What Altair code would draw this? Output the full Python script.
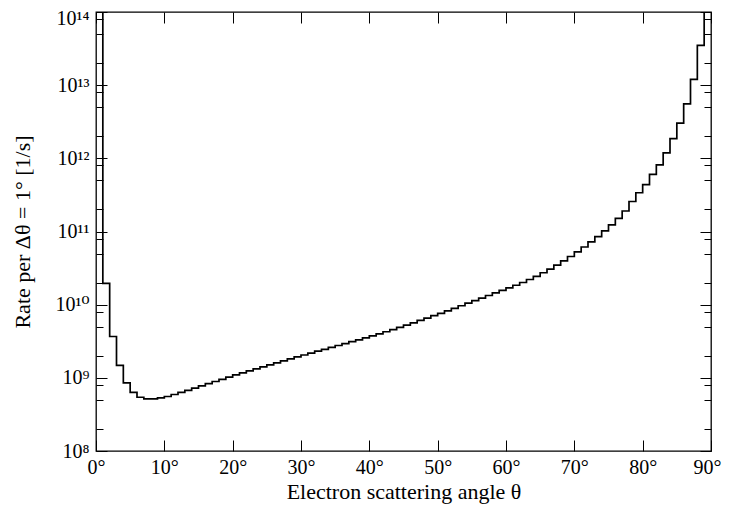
import altair as alt
import pandas as pd

# Bin left edges (degrees), 1-degree bins from 0 to 90
bin_left_deg = list(range(0, 90))
bin_right_end = 90

# Rate per 1-degree bin [1/s] (first and last bins exceed the plot top)
rates = [
    1.0e15, 1.95e10, 3.67e9, 1.48e9, 8.51e8, 6.31e8, 5.43e8, 5.15e8, 5.15e8, 5.31e8,
    5.56e8, 5.92e8, 6.31e8, 6.76e8, 7.24e8, 7.76e8, 8.32e8, 8.91e8, 9.55e8, 1.023e9,
    1.096e9, 1.17e9, 1.247e9, 1.327e9, 1.413e9, 1.503e9, 1.60e9, 1.702e9, 1.811e9, 1.928e9,
    2.051e9, 2.178e9, 2.312e9, 2.455e9, 2.606e9, 2.767e9, 2.938e9, 3.119e9, 3.311e9, 3.516e9,
    3.741e9, 3.99e9, 4.266e9, 4.571e9, 4.898e9, 5.26e9, 5.649e9, 6.081e9, 6.546e9, 7.063e9,
    7.621e9, 8.241e9, 8.913e9, 9.661e9, 1.047e10, 1.135e10, 1.23e10, 1.334e10, 1.445e10, 1.567e10,
    1.698e10, 1.841e10, 2.009e10, 2.208e10, 2.443e10, 2.729e10, 3.069e10, 3.475e10, 3.963e10, 4.55e10,
    5.26e10, 6.138e10, 7.211e10, 8.531e10, 1.023e11, 1.23e11, 1.514e11, 1.905e11, 2.57e11, 3.388e11,
    4.365e11, 6.026e11, 8.128e11, 1.189e12, 1.862e12, 3.02e12, 5.559e12, 1.202e13, 3.508e13, 2.0e14,
]

x_tick_values = [0, 10, 20, 30, 40, 50, 60, 70, 80, 90]
y_major_values = [1e8, 1e9, 1e10, 1e11, 1e12, 1e13, 1e14]
y_major_labels = ["10⁸", "10⁹", "10¹⁰", "10¹¹", "10¹²", "10¹³", "10¹⁴"]
y_minor_values = [m * 10 ** e for e in range(8, 14) for m in (2, 5, 8)]

df = pd.DataFrame({
    "angle": bin_left_deg + [bin_right_end],
    "rate": rates + [rates[-1]],
})

FONT = "'Liberation Serif', 'DejaVu Serif', 'Times New Roman', serif"
FS = 20
TFS = 22

xscale = alt.Scale(domain=[0, 90], nice=False, zero=False)
yscale = alt.Scale(type="log", domain=[1e8, 1e14], nice=False)

ylabel_expr = " : ".join(
    f"datum.value == {v:.0f} ? '{l}'" for v, l in zip(y_major_values, y_major_labels)
) + " : ''"

common = dict(domain=False, grid=False, tickColor="black", tickWidth=1)

ax_bottom = alt.Axis(orient="bottom", values=x_tick_values, tickSize=11, offset=-11,
                     labelExpr="datum.value + '°'", labelFont=FONT, labelFontSize=FS,
                     labelColor="black", labelPadding=6, labelFlush=False,
                     labelOffset={"condition": {"test": "datum.value == 90", "value": -4}, "value": 0},
                     title="Electron scattering angle θ", titleFont=FONT, titleFontSize=TFS,
                     titleFontWeight="normal", titleColor="black", titlePadding=4, **common)
ax_top = alt.Axis(orient="top", values=x_tick_values, tickSize=11, offset=-11,
                  labels=False, title=None, **common)
ax_left = alt.Axis(orient="left", values=y_major_values, tickSize=11, offset=-11,
                   labelExpr=ylabel_expr, labelFont=FONT, labelFontSize=FS,
                   labelColor="black", labelPadding=7, labelFlush=False,
                   labelOffset={"condition": {"test": "datum.value >= 1e14", "value": 6}, "value": 0},
                   title="Rate per Δθ  =  1° [1/s]", titleFont=FONT, titleFontSize=TFS,
                   titleFontWeight="normal", titleColor="black", titlePadding=20, **common)
ax_right = alt.Axis(orient="right", values=y_major_values, tickSize=11, offset=-11,
                    labels=False, title=None, **common)
ax_left_minor = alt.Axis(orient="left", values=y_minor_values, tickSize=7, offset=-7,
                         labels=False, title=None, **common)
ax_right_minor = alt.Axis(orient="right", values=y_minor_values, tickSize=7, offset=-7,
                          labels=False, title=None, **common)

base = alt.Chart(df)

line = base.mark_line(interpolate="step-after", color="black", strokeWidth=1.7, clip=True).encode(
    x=alt.X("angle:Q", scale=xscale, axis=ax_bottom),
    y=alt.Y("rate:Q", scale=yscale, axis=ax_left),
)
ghost_kw = dict(interpolate="step-after", opacity=0, clip=True)
l2 = base.mark_line(**ghost_kw).encode(
    x=alt.X("angle:Q", scale=xscale, axis=ax_top),
    y=alt.Y("rate:Q", scale=yscale, axis=ax_right),
)
l3 = base.mark_line(**ghost_kw).encode(
    x=alt.X("angle:Q", scale=xscale, axis=None),
    y=alt.Y("rate:Q", scale=yscale, axis=ax_left_minor),
)
l4 = base.mark_line(**ghost_kw).encode(
    x=alt.X("angle:Q", scale=xscale, axis=None),
    y=alt.Y("rate:Q", scale=yscale, axis=ax_right_minor),
)

chart = (
    alt.layer(line, l2, l3, l4)
    .resolve_axis(x="independent", y="independent")
    .properties(
        width=615, height=439,
        padding={"left": 88, "top": 4, "right": 11, "bottom": 53},
        autosize=alt.AutoSizeParams(type="none"),
        background="white",
    )
    .configure_view(stroke="black", strokeWidth=1.3)
)

chart.save("out.html", embed_options={"renderer": "svg", "actions": False})
